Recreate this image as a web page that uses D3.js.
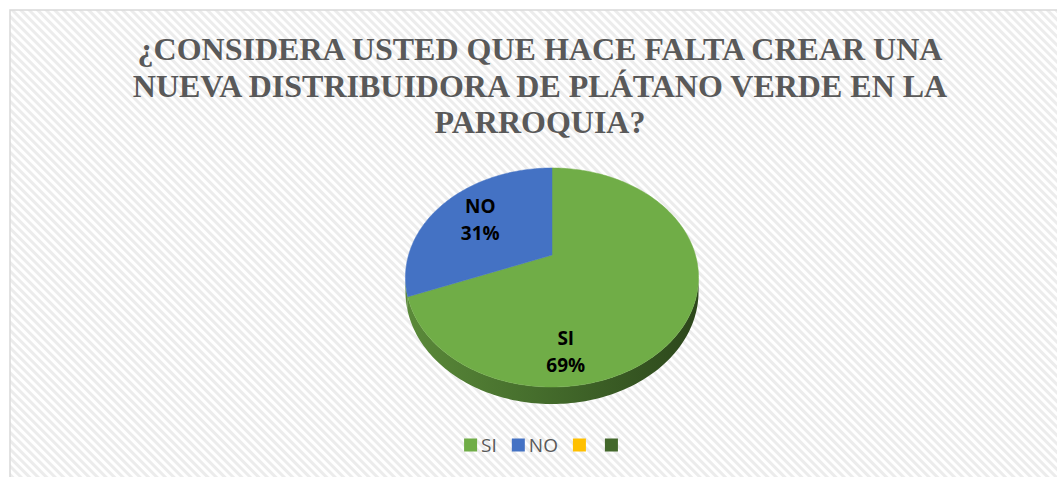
<!DOCTYPE html>
<html>
<head>
<meta charset="utf-8">
<script src="https://cdn.jsdelivr.net/npm/d3@7"></script>
<style>
  body { margin: 0; background: #fff; overflow: hidden; }
  svg { display: block; }
</style>
</head>
<body>
<div id="chart"></div>
<script>
// chart data
const titleLines = [
  "¿CONSIDERA USTED QUE HACE FALTA CREAR UNA",
  "NUEVA DISTRIBUIDORA DE PLÁTANO VERDE EN LA",
  "PARROQUIA?"
];
const categories = ["SI", "NO", "", ""];
const values = [69, 31, 0, 0];
const colors = ["#70ad47", "#4472c4", "#ffc000", "#43682b"];

const width = 1057, height = 477;
// chart area runs past the right and bottom edges of the picture
const frame = { x: 10, y: 10, w: 1060, h: 480 };
const midX = frame.x + frame.w / 2;

const svg = d3.select("#chart")
  .append("svg")
  .attr("width", width)
  .attr("height", height);

const defs = svg.append("defs");

// diagonal stripes of the chart area
const pat = defs.append("pattern")
  .attr("id", "stripes")
  .attr("patternUnits", "userSpaceOnUse")
  .attr("width", 6)
  .attr("height", 6)
  .attr("patternTransform", "rotate(-45)");
pat.append("rect").attr("width", 6).attr("height", 6).attr("fill", "#fff");
pat.append("rect").attr("width", 3).attr("height", 6).attr("fill", "#ececec");

svg.append("rect")
  .attr("x", frame.x)
  .attr("y", frame.y)
  .attr("width", width - frame.x)
  .attr("height", height - frame.y)
  .attr("fill", "url(#stripes)");

// only the top and left edges of the frame are in view
svg.append("path")
  .attr("d", "M" + frame.x + "," + height + "V" + frame.y + "H" + width)
  .attr("fill", "none")
  .attr("stroke", "#d9d9d9")
  .attr("stroke-width", 1.5);

// title
svg.append("g")
  .selectAll("text")
  .data(titleLines)
  .join("text")
  .attr("x", midX)
  .attr("y", (d, i) => 60 + i * 36.7)
  .attr("text-anchor", "middle")
  .style("font", "bold 32px 'Liberation Serif', 'Times New Roman', serif")
  .attr("fill", "#595959")
  .text(d => d);

// 3d pie, simple perspective projection of a tilted disc
const pie3d = { cx: 552, cy: 255, sx: 143.4, sy: 104.9, e: 0.2055, depth: 13.5 };

function proj(theta, r = 1) {
  const X = r * Math.sin(theta), Y = r * Math.cos(theta);
  const w = 1 + pie3d.e * Y;
  return [pie3d.cx + pie3d.sx * X / w, pie3d.cy - pie3d.sy * Y / w, w];
}

function arcPoints(a0, a1) {
  const n = Math.max(2, Math.ceil((a1 - a0) / 0.02));
  return d3.range(n + 1).map(i => proj(a0 + (a1 - a0) * i / n));
}

const data = categories.map((c, i) => ({ name: c, value: values[i], color: colors[i] }));
const arcs = d3.pie().sort(null).value(d => d.value)(data).filter(d => d.value > 0);

const grad = defs.append("linearGradient")
  .attr("id", "sideGrad")
  .attr("gradientUnits", "userSpaceOnUse")
  .attr("x1", pie3d.cx - pie3d.sx * 1.03).attr("x2", pie3d.cx + pie3d.sx * 1.03)
  .attr("y1", 0).attr("y2", 0);
grad.append("stop").attr("offset", 0).attr("stop-color", "#5b8a3a");
grad.append("stop").attr("offset", 0.45).attr("stop-color", "#456d2c");
grad.append("stop").attr("offset", 1).attr("stop-color", "#2c461b");

// visible part of the outer wall
const tA = Math.acos(-pie3d.e), tB = 2 * Math.PI - tA;
const pieG = svg.append("g");

arcs.forEach(d => {
  const a = Math.max(d.startAngle, tA), b = Math.min(d.endAngle, tB);
  if (a >= b) return;
  const top = arcPoints(a, b);
  const bottom = top.map(p => [p[0], p[1] + pie3d.depth / p[2]]).reverse();
  pieG.append("path")
    .attr("d", d3.line()(top.map(p => [p[0], p[1]]).concat(bottom)) + "Z")
    .attr("fill", "url(#sideGrad)");
});

pieG.selectAll("path.top")
  .data(arcs)
  .join("path")
  .attr("class", "top")
  .attr("d", d => {
    const pts = [[pie3d.cx, pie3d.cy]].concat(arcPoints(d.startAngle, d.endAngle).map(p => [p[0], p[1]]));
    return d3.line()(pts) + "Z";
  })
  .attr("fill", d => d.data.color)
  .attr("stroke", d => d.data.color)
  .attr("stroke-width", 0.5);

// data labels
const labelAnchor = d => d.value > 50
  ? proj(Math.PI * 0.967, 0.78)
  : proj((d.startAngle + d.endAngle) / 2, 0.65);

const labels = svg.append("g")
  .style("font", "bold 19px 'Open Sans', 'DejaVu Sans', sans-serif")
  .attr("fill", "#000")
  .selectAll("text")
  .data(arcs)
  .join("text")
  .attr("text-anchor", "middle")
  .attr("transform", d => {
    const p = labelAnchor(d);
    return "translate(" + p[0] + "," + (p[1] - 6.75) + ")";
  });
labels.append("tspan").attr("x", 0).attr("y", 0).text(d => d.data.name);
labels.append("tspan").attr("x", 0).attr("y", 27).text(d => Math.round(d.value) + "%");

// legend
const legend = svg.append("g");
const sw = 13;
let lx = 0;
data.forEach(d => {
  const item = legend.append("g").attr("transform", "translate(" + lx + ",0)");
  item.append("rect")
    .attr("x", 0).attr("y", -sw - 0.5)
    .attr("width", sw).attr("height", sw)
    .attr("fill", d.color);
  const t = item.append("text")
    .attr("x", sw + 4)
    .attr("y", 0)
    .style("font", "19px 'Open Sans', 'DejaVu Sans', sans-serif")
    .attr("fill", "#595959")
    .text(d.name);
  lx += sw + 4 + t.node().getComputedTextLength() + 15;
});
const legendW = lx - 15;
legend.attr("transform", "translate(" + (midX + 3 - legendW / 2) + ",452)");
</script>
</body>
</html>
